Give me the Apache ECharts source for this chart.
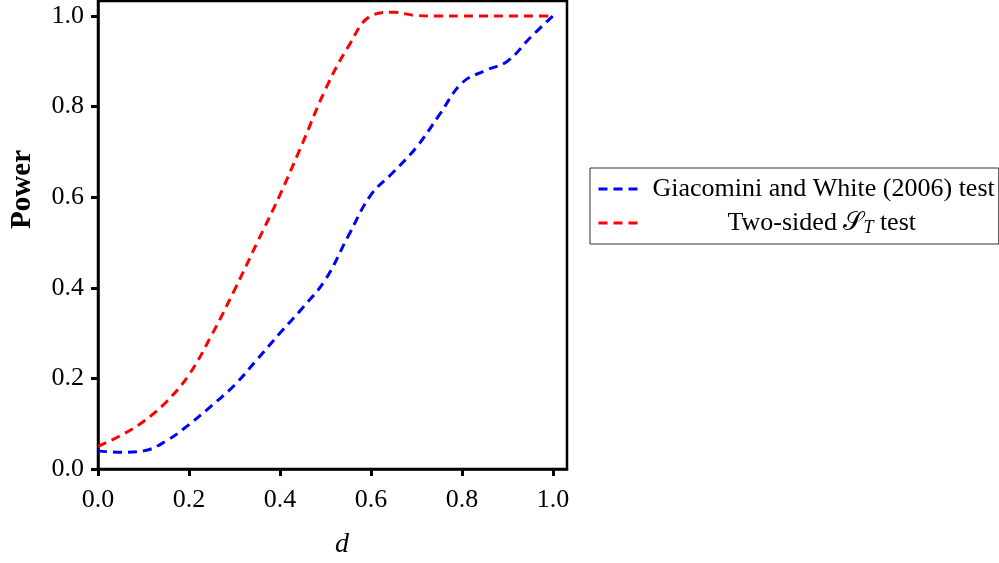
<!DOCTYPE html>
<html>
<head>
<meta charset="utf-8">
<script src="https://cdn.jsdelivr.net/npm/echarts@6/dist/echarts.min.js"></script>
<style>
html,body{margin:0;padding:0;background:#fff;}
#main{width:999px;height:563px;}
</style>
</head>
<body>
<div id="main"></div>
<script>
// d values (x axis)
const dValues = [0,0.05,0.1,0.15,0.2,0.25,0.3,0.35,0.4,0.45,0.5,0.55,0.6,0.65,0.7,0.75,0.8,0.85,0.9,0.95,1.0];
// Giacomini and White (2006) test power
const gwPower = [0.040,0.037,0.040,0.062,0.098,0.140,0.185,0.242,0.300,0.356,0.418,0.514,0.605,0.656,0.710,0.781,0.852,0.879,0.900,0.952,1.000];
// Two-sided S_T test power
const stPower = [0.050,0.074,0.105,0.148,0.208,0.296,0.395,0.500,0.605,0.720,0.838,0.932,1.000,1.008,1.001,1.000,1.000,1.000,1.000,1.000,1.000];
const tickValues = [0,0.2,0.4,0.6,0.8,1.0];
const seriesNames = ['Giacomini and White (2006) test','Two-sided S_T test'];
const xName = 'd';
const yName = 'Power';

const FONT = 'Liberation Serif';
const FS = 26;
const chart = echarts.init(document.getElementById('main'), null, {renderer:'canvas'});
const pair = arr => arr.map((v,i)=>[dValues[i], v]);

const axisCommon = {
  axisLine:{show:true, onZero:false, lineStyle:{color:'#000', width:2.5}},
  axisTick:{show:true, length:7, lineStyle:{color:'#000', width:3}, customValues:tickValues},
  splitLine:{show:false},
};

chart.setOption({
  animation:false,
  backgroundColor:'#fff',
  grid:{left:98, right:432, top:1, bottom:94, show:true, borderColor:'#000', borderWidth:2.5, backgroundColor:'transparent'},
  xAxis:Object.assign({type:'value', min:0, max:1.031,
    axisLabel:{customValues:tickValues, formatter:v=>v.toFixed(1), fontFamily:FONT, fontSize:FS, color:'#000', margin:18}}, axisCommon),
  yAxis:Object.assign({type:'value', min:0, max:1.033,
    axisLabel:{customValues:tickValues, formatter:v=>v.toFixed(1), fontFamily:FONT, fontSize:FS, color:'#000', margin:14}}, axisCommon),
  legend:{
    orient:'vertical', left:590, top:168,
    padding:[6,4,6,7], itemGap:4, itemWidth:43, itemHeight:2,
    borderColor:'#333', borderWidth:1,
    itemStyle:{opacity:0},
    lineStyle:{width:3},
    data:seriesNames,
    formatter:function(name){
      if(name===seriesNames[0]) return '{p|}{t|'+name+'}';
      return '{sp|}{t|Two-sided }{s|\uD835\uDCAE}{sub|T}{t| test}';
    },
    textStyle:{
      fontFamily:FONT, fontSize:FS, color:'#000', lineHeight:30,
      rich:{
        p:{width:6},
        t:{fontFamily:FONT, fontSize:FS, color:'#000', lineHeight:30},
        sp:{width:81},
        s:{fontFamily:FONT, fontSize:FS, color:'#000', lineHeight:30},
        sub:{fontFamily:FONT, fontSize:18, fontStyle:'italic', color:'#000', padding:[10,0,0,0]}
      }
    }
  },
  graphic:[
    {type:'text', left:8, top:150, rotation:Math.PI/2, style:{text:yName, font:'bold 29px "'+FONT+'"', fill:'#000'}},
    {type:'text', left:335, top:531, style:{text:xName, font:'italic 28px "'+FONT+'"', fill:'#000'}}
  ],
  series:[
    {name:seriesNames[0], type:'line', data:pair(gwPower), smooth:0.4, symbol:'none', showSymbol:false,
     lineStyle:{color:'#0000ff', width:3, type:[9,6]}, itemStyle:{color:'#0000ff'}},
    {name:seriesNames[1], type:'line', data:pair(stPower), smooth:0.4, symbol:'none', showSymbol:false,
     lineStyle:{color:'#ff0000', width:3, type:[9,6]}, itemStyle:{color:'#ff0000'}}
  ]
});
</script>
</body>
</html>
